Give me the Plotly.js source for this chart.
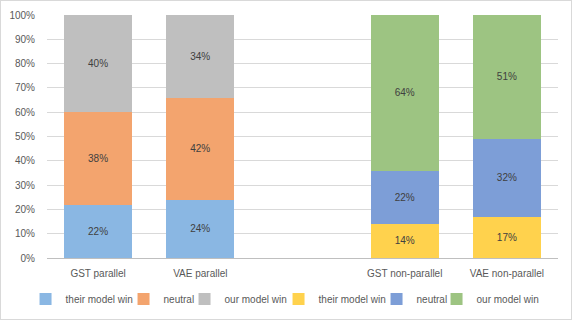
<!DOCTYPE html>
<html>
<head>
<meta charset="utf-8">
<script src="https://cdn.plot.ly/plotly-3.0.1.min.js"></script>
<style>
  html, body { margin: 0; padding: 0; background: #fff; }
  #chart { width: 570px; height: 318px; border: 1px solid #d9d9d9; }
</style>
</head>
<body>
<div id="chart"></div>
<script>
const categories = ['GST parallel', 'VAE parallel', ' ', 'GST non-parallel', 'VAE non-parallel'];
const parallelCats = ['GST parallel', 'VAE parallel'];
const nonParallelCats = ['GST non-parallel', 'VAE non-parallel'];

const seriesNames = ['their model win', 'neutral', 'our model win'];

// percentages, bottom to top
const parTheirWin = [22, 24];
const parNeutral = [38, 42];
const parOurWin = [40, 34];
const nonTheirWin = [14, 17];
const nonNeutral = [22, 32];
const nonOurWin = [64, 51];

const parColors = ['#8AB7E3', '#F3A46E', '#BFBFBF'];
const nonColors = ['#FFD24D', '#7D9ED7', '#9DC482'];

// legend entry widths so the six keys spread out like the Excel legend
const legendWidths = [53, 16, 49, 53, 15, 62];

function barTrace(name, x, y, color, lw) {
    return {
        name: name,
        type: 'bar',
        x: x,
        y: y,
        marker: { color: color },
        text: y.map(v => v + '%'),
        textposition: 'inside',
        insidetextanchor: 'middle',
        textangle: 0,
        constraintext: 'none',
        textfont: { family: 'Liberation Sans, Arial, sans-serif', size: 10, color: '#404040' },
        legendwidth: lw,
        hoverinfo: 'name+y'
    };
}

const traces = [
    barTrace(seriesNames[0], parallelCats, parTheirWin, parColors[0], legendWidths[0]),
    barTrace(seriesNames[1], parallelCats, parNeutral, parColors[1], legendWidths[1]),
    barTrace(seriesNames[2], parallelCats, parOurWin, parColors[2], legendWidths[2]),
    barTrace(seriesNames[0], nonParallelCats, nonTheirWin, nonColors[0], legendWidths[3]),
    barTrace(seriesNames[1], nonParallelCats, nonNeutral, nonColors[1], legendWidths[4]),
    barTrace(seriesNames[2], nonParallelCats, nonOurWin, nonColors[2], legendWidths[5])
];

const layout = {
    width: 570,
    height: 318,
    barmode: 'stack',
    bargap: 0.335,
    font: { family: 'Liberation Sans, Arial, sans-serif', size: 10, color: '#595959' },
    paper_bgcolor: '#fff',
    plot_bgcolor: '#fff',
    margin: { l: 46, r: 13, t: 14, b: 61, autoexpand: false },
    xaxis: {
        type: 'category',
        categoryorder: 'array',
        categoryarray: categories,
        range: [-0.5, 4.5],
        showline: true,
        linecolor: '#BFBFBF',
        linewidth: 1,
        ticks: '',
        ticklabelstandoff: 6,
        showgrid: false,
        zeroline: false,
        tickfont: { size: 10, color: '#595959' },
        fixedrange: true
    },
    yaxis: {
        range: [0, 100],
        dtick: 10,
        ticksuffix: '%',
        showgrid: true,
        gridcolor: '#D9D9D9',
        zeroline: false,
        showline: false,
        ticks: '',
        ticklabelstandoff: 11,
        tickfont: { size: 10, color: '#595959' },
        fixedrange: true
    },
    showlegend: true,
    legend: {
        orientation: 'h',
        x: -0.042,
        xanchor: 'left',
        y: -0.169,
        yanchor: 'middle',
        traceorder: 'normal',
        font: { size: 10, color: '#595959' }
    }
};

Plotly.newPlot('chart', traces, layout, { displayModeBar: false, staticPlot: true });
</script>
</body>
</html>
